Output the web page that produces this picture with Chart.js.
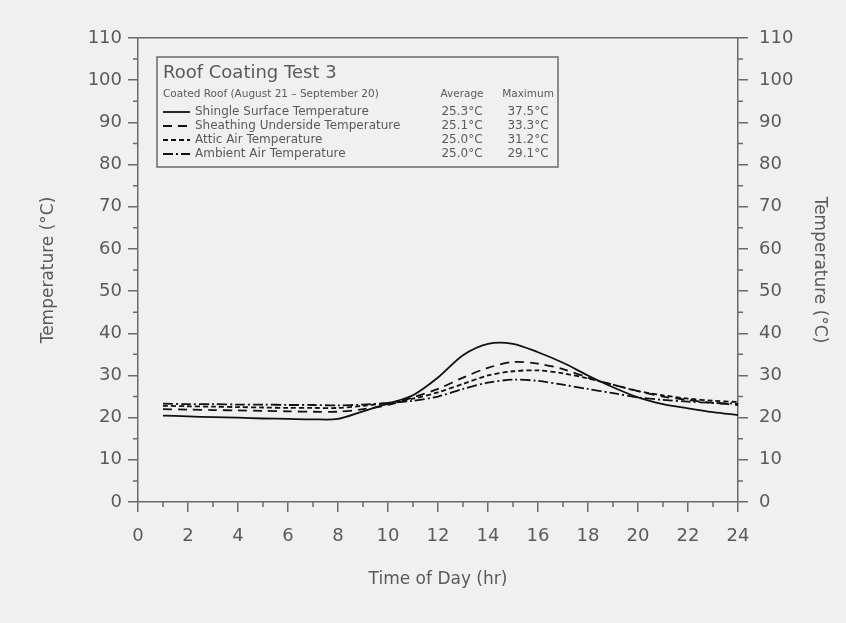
<!DOCTYPE html>
<html>
<head>
<meta charset="utf-8">
<script src="https://cdn.jsdelivr.net/npm/chart.js@4.4.0/dist/chart.umd.min.js"></script>
<style>
  html, body { margin: 0; padding: 0; background: #f0f0f0; }
  canvas { display: block; }
</style>
</head>
<body>
<canvas id="chart" width="846" height="623"></canvas>
<script>
// Hourly temperatures (deg C)
const hours = [1, 2, 3, 4, 5, 6, 7, 8, 9, 10, 11, 12, 13, 14, 15, 16, 17, 18, 19, 20, 21, 22, 23, 24];
const shingle = [20.5, 20.3, 20.1, 20.0, 19.8, 19.7, 19.6, 19.7, 21.5, 23.3, 25.3, 29.5, 34.8, 37.5, 37.5, 35.5, 33.0, 30.0, 27.2, 24.8, 23.2, 22.2, 21.3, 20.6];
const sheathing = [22.0, 21.9, 21.8, 21.7, 21.6, 21.5, 21.4, 21.4, 22.0, 23.0, 24.8, 26.8, 29.5, 31.8, 33.2, 32.8, 31.5, 29.5, 27.8, 26.3, 25.0, 24.2, 23.5, 23.0];
const attic = [22.8, 22.7, 22.6, 22.5, 22.4, 22.3, 22.3, 22.3, 22.8, 23.5, 24.5, 26.0, 28.0, 30.0, 31.0, 31.2, 30.5, 29.3, 27.8, 26.3, 25.3, 24.5, 24.0, 23.7];
const ambient = [23.3, 23.2, 23.2, 23.1, 23.1, 23.0, 23.0, 22.9, 23.1, 23.5, 24.0, 25.0, 26.8, 28.3, 29.0, 28.7, 27.8, 26.8, 25.8, 24.8, 24.2, 23.8, 23.5, 23.3];

const seriesNames = ['Shingle Surface Temperature', 'Sheathing Underside Temperature', 'Attic Air Temperature', 'Ambient Air Temperature'];
const averages = ['25.3°C', '25.1°C', '25.0°C', '25.0°C'];
const maximums = ['37.5°C', '33.3°C', '31.2°C', '29.1°C'];

const yTicks = [0, 10, 20, 30, 40, 50, 60, 70, 80, 90, 100, 110];
const xTicks = [0, 2, 4, 6, 8, 10, 12, 14, 16, 18, 20, 22, 24];

const textColor = '#5a5a5a';
const axisColor = '#6a6a6a';
const font = 'DejaVu Sans';

function pts(vals) {
    return hours.map((h, i) => ({ x: h, y: vals[i] }));
}

// Short minor ticks between the labelled ones
const minorTicks = {
    id: 'minorTicks',
    afterDraw(chart) {
        const ctx = chart.ctx;
        const x = chart.scales.x, y = chart.scales.y, y2 = chart.scales.y2;
        ctx.save();
        ctx.strokeStyle = axisColor;
        ctx.lineWidth = 1.5;
        ctx.beginPath();
        for (let h = 1; h < 24; h += 2) {
            const px = x.getPixelForValue(h);
            ctx.moveTo(px, x.top);
            ctx.lineTo(px, x.top + 5);
        }
        for (let v = 5; v < 110; v += 10) {
            const py = y.getPixelForValue(v);
            ctx.moveTo(y.right, py);
            ctx.lineTo(y.right - 5, py);
            ctx.moveTo(y2.left, py);
            ctx.lineTo(y2.left + 5, py);
        }
        ctx.stroke();
        ctx.restore();
    }
};

// Boxed legend with averages and maximums
const boxLegend = {
    id: 'boxLegend',
    afterDraw(chart) {
        const ctx = chart.ctx;
        ctx.save();
        ctx.strokeStyle = axisColor;
        ctx.lineWidth = 1.5;
        ctx.strokeRect(157, 57, 401, 110);

        ctx.fillStyle = textColor;
        ctx.textBaseline = 'middle';
        ctx.textAlign = 'left';
        ctx.font = '18px "' + font + '"';
        ctx.fillText('Roof Coating Test 3', 163, 73);

        ctx.font = '10.5px "' + font + '"';
        ctx.fillText('Coated Roof (August 21 \u2013 September 20)', 163, 94);
        ctx.textAlign = 'center';
        ctx.fillText('Average', 462, 94);
        ctx.fillText('Maximum', 528, 94);

        const rowY = [112, 126, 140, 154];
        chart.data.datasets.forEach((ds, i) => {
            ctx.strokeStyle = '#111';
            ctx.lineWidth = 1.8;
            ctx.setLineDash(ds.borderDash || []);
            ctx.beginPath();
            ctx.moveTo(163, rowY[i]);
            ctx.lineTo(190, rowY[i]);
            ctx.stroke();
            ctx.setLineDash([]);
            ctx.font = '12px "' + font + '"';
            ctx.textAlign = 'left';
            ctx.fillText(seriesNames[i], 195, rowY[i]);
            ctx.textAlign = 'center';
            ctx.fillText(averages[i], 462, rowY[i]);
            ctx.fillText(maximums[i], 528, rowY[i]);
        });
        ctx.restore();
    }
};

const lineStyle = { borderColor: '#111', borderWidth: 1.8, pointRadius: 0, fill: false, tension: 0.3 };

new Chart(document.getElementById('chart'), {
    type: 'line',
    data: {
        datasets: [
            Object.assign({ label: seriesNames[0], data: pts(shingle), borderDash: [] }, lineStyle),
            Object.assign({ label: seriesNames[1], data: pts(sheathing), borderDash: [9, 6] }, lineStyle),
            Object.assign({ label: seriesNames[2], data: pts(attic), borderDash: [5, 3] }, lineStyle),
            Object.assign({ label: seriesNames[3], data: pts(ambient), borderDash: [10, 3, 2, 3] }, lineStyle)
        ]
    },
    options: {
        responsive: false,
        animation: false,
        layout: { padding: { left: 34, right: 12, top: 0, bottom: 29 } },
        plugins: { legend: { display: false }, tooltip: { enabled: false } },
        scales: {
            x: {
                type: 'linear', position: 'bottom', min: 0, max: 24,
                afterBuildTicks: s => { s.ticks = xTicks.map(v => ({ value: v })); },
                afterFit: s => { s.height = 92; },
                ticks: { color: textColor, font: { family: font, size: 18 }, padding: 14, maxRotation: 0 },
                grid: { drawOnChartArea: false, drawTicks: true, tickLength: 10, color: axisColor, lineWidth: 1.5 },
                border: { color: axisColor, width: 1.5 },
                title: { display: true, text: 'Time of Day (hr)', color: textColor, font: { family: font, size: 17 } }
            },
            xTop: {
                type: 'linear', position: 'top', min: 0, max: 24,
                afterFit: s => { s.height = 38; },
                ticks: { display: false },
                grid: { drawOnChartArea: false, drawTicks: false },
                border: { color: axisColor, width: 1.5 }
            },
            y: {
                position: 'left', min: 0, max: 110,
                afterBuildTicks: s => { s.ticks = yTicks.map(v => ({ value: v })); },
                afterFit: s => { s.width = 104; },
                ticks: { color: textColor, font: { family: font, size: 18 }, padding: 6 },
                grid: { drawOnChartArea: false, drawTicks: true, tickLength: 10, color: axisColor, lineWidth: 1.5 },
                border: { color: axisColor, width: 1.5 },
                title: { display: true, text: 'Temperature (°C)', color: textColor, font: { family: font, size: 17 } }
            },
            y2: {
                position: 'right', min: 0, max: 110,
                afterBuildTicks: s => { s.ticks = yTicks.map(v => ({ value: v })); },
                afterFit: s => { s.width = 96; },
                ticks: { color: textColor, font: { family: font, size: 18 }, padding: 11 },
                grid: { drawOnChartArea: false, drawTicks: true, tickLength: 10, color: axisColor, lineWidth: 1.5 },
                border: { color: axisColor, width: 1.5 },
                title: { display: true, text: 'Temperature (°C)', color: textColor, font: { family: font, size: 17 } }
            }
        }
    },
    plugins: [minorTicks, boxLegend]
});
</script>
</body>
</html>
